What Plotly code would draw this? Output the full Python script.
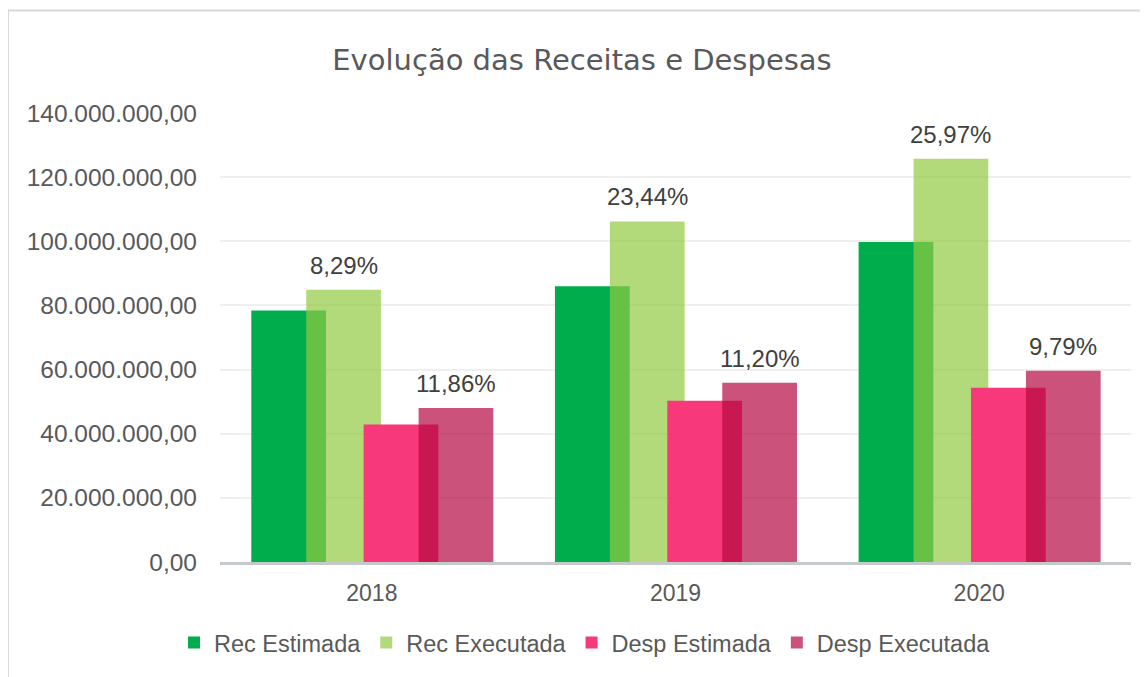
import plotly.graph_objects as go

years = ["2018", "2019", "2020"]
rec_estimada = [78.4e6, 86.0e6, 99.8e6]
rec_executada = [84.9e6, 106.2e6, 125.7e6]
desp_estimada = [42.9e6, 50.3e6, 54.3e6]
desp_executada = [48.0e6, 55.9e6, 59.6e6]
rec_pct_labels = ["8,29%", "23,44%", "25,97%"]
desp_pct_labels = ["11,86%", "11,20%", "9,79%"]
y_ticks = [0, 20e6, 40e6, 60e6, 80e6, 100e6, 120e6, 140e6]

xpos = list(range(len(years)))
W = 0.246
series = [
    ("Rec Estimada", rec_estimada, -0.397, "rgb(0,173,76)"),
    ("Rec Executada", rec_executada, -0.216, "rgba(146,201,65,0.7)"),
    ("Desp Estimada", desp_estimada, -0.027, "rgb(247,57,123)"),
    ("Desp Executada", desp_executada, 0.154, "rgba(181,8,65,0.7)"),
]

fig = go.Figure()
for name, vals, off, col in series:
    fig.add_trace(go.Bar(
        x=xpos, y=vals, name=name, width=W, offset=off,
        marker=dict(color=col, line=dict(width=0)),
        hoverinfo="y+name",
    ))

FONT = "Liberation Sans, Arial, sans-serif"
font_lbl = dict(family=FONT, size=24, color="#404040")
for vals, labels, off in [(rec_executada, rec_pct_labels, -0.216), (desp_executada, desp_pct_labels, 0.154)]:
    for i, (v, t) in enumerate(zip(vals, labels)):
        fig.add_annotation(x=xpos[i] + off + W / 2, y=v, text=t, showarrow=False,
                           yanchor="bottom", yshift=9, font=font_lbl)

# outer chart border (left and top)
fig.add_shape(type="line", xref="paper", yref="paper", x0=-0.2327, x1=-0.2327, y0=-0.3, y1=1.2284,
              line=dict(color="#D9D9D9", width=2))
fig.add_shape(type="line", xref="paper", yref="paper", x0=-0.2327, x1=1.03, y0=1.2284, y1=1.2284,
              line=dict(color="#D9D9D9", width=2))

W_FIG, H_FIG = 1140, 669
fig.update_layout(
    width=W_FIG, height=H_FIG,
    margin=dict(l=212, r=17, t=105, b=113),
    paper_bgcolor="white", plot_bgcolor="white",
    barmode="overlay",
    separators=",.",
    title=dict(text="Evolução das Receitas e Despesas", x=574 / W_FIG, xref="container", xanchor="center",
               y=1 - 52 / H_FIG, yref="container", yanchor="middle",
               font=dict(family="DejaVu Sans, sans-serif", size=29, color="#595959")),
    showlegend=True,
    legend=dict(orientation="h", x=0.4007, xanchor="center", y=-0.18, yanchor="middle",
                font=dict(family=FONT, size=23.5, color="#595959"),
                traceorder="normal", itemwidth=30),
    font=dict(family=FONT),
)
fig.update_xaxes(
    range=[-0.5, 2.5], tickvals=xpos, ticktext=years,
    showgrid=False, zeroline=False,
    showline=True, linecolor="#C6C9CC", linewidth=3,
    ticks="", ticklabelstandoff=8,
    tickfont=dict(family=FONT, size=23, color="#595959"),
)
fig.update_yaxes(
    range=[0, 140e6], tickvals=y_ticks, tickformat=",.2f",
    showgrid=True, gridcolor="#EFEFEF", gridwidth=2,
    zeroline=False, showline=False, ticks="", ticklabelstandoff=22,
    tickfont=dict(family=FONT, size=24.5, color="#595959"),
)

fig.write_html("out.html")
